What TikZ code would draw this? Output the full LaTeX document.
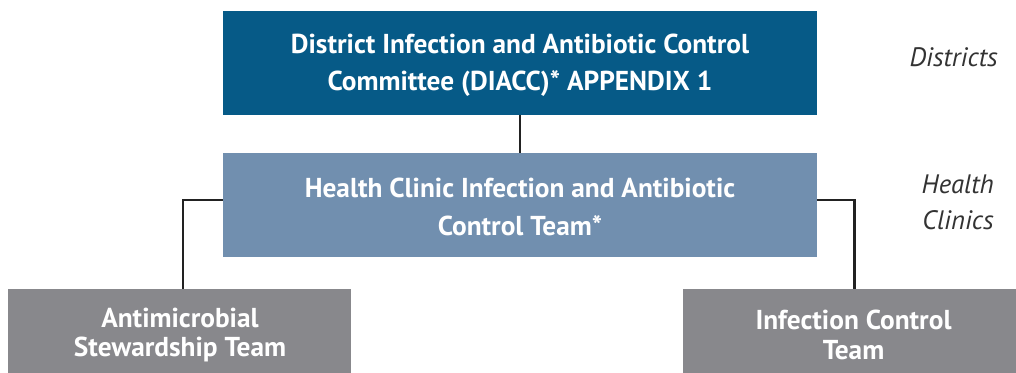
\documentclass[tikz,border=0pt]{standalone}
\usepackage{fontspec}
\setmainfont{PT Sans}
\definecolor{topblue}{HTML}{065A87}
\definecolor{midblue}{HTML}{718FAF}
\definecolor{boxgray}{HTML}{88888C}
\definecolor{linegray}{HTML}{222222}
\definecolor{labelgray}{HTML}{333333}
\tikzset{
  orgbox/.style={rectangle, inner sep=0pt, text=white, align=center, font=\bfseries\fontsize{20.5}{28}\selectfont},
  lowbox/.style={orgbox, font=\bfseries\fontsize{20.5}{22}\selectfont},
  conn/.style={draw=linegray, line width=2.2pt},
  side/.style={text=labelgray, font=\itshape\fontsize{20}{27}\selectfont, align=right, inner sep=0pt}
}
\begin{document}
\begin{tikzpicture}[x=0.75pt,y=-0.75pt]
\useasboundingbox (0,0) rectangle (1016,373);
\node[orgbox, fill=topblue, minimum width=594*0.75pt, minimum height=104*0.75pt] (diacc) at (520,63)
  {};
\node[orgbox] (diacct) at (520,65) {District Infection and Antibiotic Control\\Committee (DIACC)* APPENDIX 1};
\node[orgbox, fill=midblue, minimum width=594*0.75pt, minimum height=104*0.75pt] (hc) at (520,205)
  {};
\node[orgbox] (hct) at (520,207) {Health Clinic Infection and Antibiotic\\Control Team*};
\node[lowbox, fill=boxgray, minimum width=343*0.75pt, minimum height=84*0.75pt] (ast) at (179.5,331)
  {};
\node[lowbox, fill=boxgray, minimum width=333*0.75pt, minimum height=84*0.75pt] (ict) at (849.5,331)
  {};
\node[lowbox] (astt) at (180,335) {Antimicrobial\\Stewardship Team};
\node[lowbox] (ictt) at (853.5,335) {Infection Control\\Team};
\node[side, anchor=east] (districts) at (998,57) {Districts};
\node[side, anchor=east] (clinics) at (994,202) {Health\\Clinics};
\draw[conn] (diacc.south) -- (hc.north);
\draw[conn] ([yshift=3.75pt]hc.west) -| ([xshift=2.6pt]ast.north);
\draw[conn] ([yshift=3.75pt]hc.east) -| ([xshift=3.4pt]ict.north);
\end{tikzpicture}
\end{document}
